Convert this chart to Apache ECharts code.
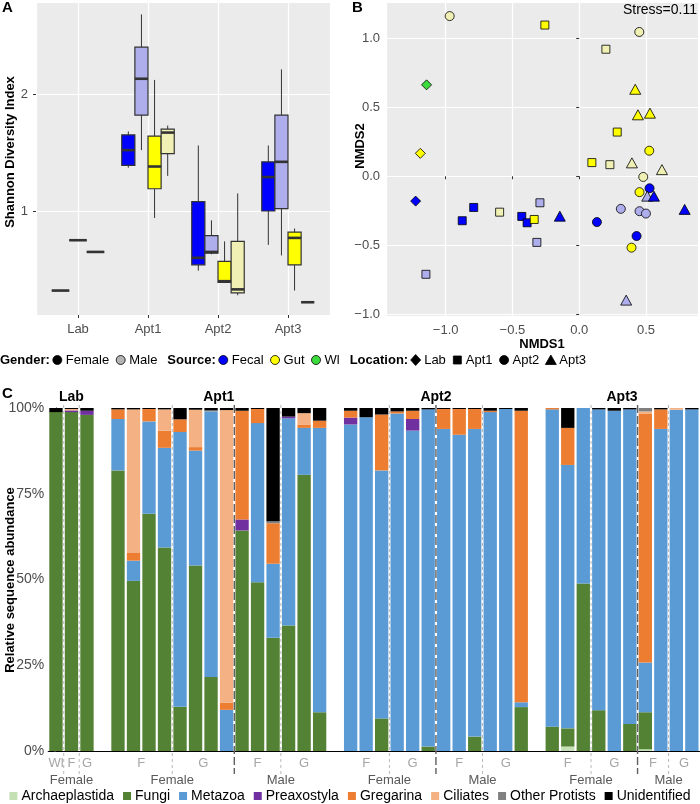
<!DOCTYPE html>
<html>
<head>
<meta charset="utf-8">
<title>Diversity, NMDS and taxonomic composition</title>
<script src="https://cdn.jsdelivr.net/npm/echarts@6.0.0/dist/echarts.min.js"></script>
<style>
    html, body { margin: 0; padding: 0; background: #ffffff; }
    #main { width: 700px; height: 804px; }
</style>
</head>
<body>
<div id="main"></div>
<script>
"use strict";

// ---------- panel A: Shannon diversity boxes ----------
var locations = ['Lab', 'Apt1', 'Apt2', 'Apt3'];
// [min, Q1, median, Q3, max] for each location, null when the group has no samples there
var femaleFecal = [[0.32, 0.32, 0.32, 0.32, 0.32], [1.37, 1.39, 1.52, 1.65, 1.68], [0.49, 0.54, 0.60, 1.08, 1.56], [0.71, 1.00, 1.29, 1.42, 1.56]];
var maleFecal = [null, [1.52, 1.82, 2.13, 2.40, 2.68], [0.63, 0.64, 0.65, 0.79, 0.92], [0.62, 1.02, 1.42, 1.82, 2.21]];
var femaleGut = [[0.75, 0.75, 0.75, 0.75, 0.75], [0.94, 1.19, 1.38, 1.64, 2.12], [0.39, 0.39, 0.40, 0.57, 0.74], [0.32, 0.54, 0.77, 0.82, 0.85]];
var maleGut = [null, [1.30, 1.49, 1.67, 1.70, 1.73], [0.28, 0.30, 0.33, 0.74, 1.15], [0.22, 0.22, 0.22, 0.22, 0.22]];
var wholeLarva = [[0.65, 0.65, 0.65, 0.65, 0.65], null, null, null];

// ---------- panel B: NMDS ordination [NMDS1, NMDS2, group] ----------
var labPoints = [[-1.143, 0.662, 'WL'], [-1.19, 0.166, 'FG'], [-1.225, -0.18, 'FF']];
var apt1Points = [
    [-0.257, 1.095, 'FG'], [0.20, 0.92, 'MG'], [0.285, 0.32, 'FG'], [0.095, 0.099, 'FG'],
    [0.23, 0.084, 'MG'], [-0.79, -0.226, 'FF'], [-0.596, -0.26, 'MG'], [-0.294, -0.192, 'MF'],
    [-0.876, -0.322, 'FF'], [-0.43, -0.291, 'FF'], [-0.39, -0.337, 'FF'], [-0.337, -0.313, 'FG'],
    [-0.317, -0.479, 'MF'], [-1.148, -0.71, 'MF']
];
var apt2Points = [
    [-0.97, 1.16, 'MG'], [0.45, 1.045, 'MG'], [0.525, 0.185, 'FG'], [0.48, -0.005, 'MG'],
    [0.527, -0.087, 'FF'], [0.452, -0.115, 'FG'], [0.133, -0.332, 'FF'], [0.312, -0.236, 'MF'],
    [0.452, -0.253, 'MF'], [0.50, -0.27, 'MF'], [0.43, -0.433, 'FF'], [0.392, -0.517, 'FG']
];
var apt3Points = [
    [0.42, 0.63, 'FG'], [0.44, 0.445, 'FG'], [0.53, 0.457, 'FG'], [0.395, 0.097, 'MG'],
    [0.62, 0.048, 'MG'], [0.51, -0.144, 'MF'], [0.56, -0.144, 'FF'], [-0.145, -0.289, 'FF'],
    [0.79, -0.24, 'FF'], [0.352, -0.897, 'MF']
];

// ---------- panel C: relative sequence abundance (%) per sample ----------
// sample groups in plotting order: location, gender, source, number of samples
var subgroups = [
    ['Lab', 'Female', 'Wl', 1], ['Lab', 'Female', 'F', 1], ['Lab', 'Female', 'G', 1],
    ['Apt1', 'Female', 'F', 4], ['Apt1', 'Female', 'G', 4], ['Apt1', 'Male', 'F', 3], ['Apt1', 'Male', 'G', 3],
    ['Apt2', 'Female', 'F', 3], ['Apt2', 'Female', 'G', 3], ['Apt2', 'Male', 'F', 3], ['Apt2', 'Male', 'G', 3],
    ['Apt3', 'Female', 'F', 3], ['Apt3', 'Female', 'G', 3], ['Apt3', 'Male', 'F', 2], ['Apt3', 'Male', 'G', 2]
];
var taxa = ['Archaeplastida', 'Fungi', 'Metazoa', 'Preaxostyla', 'Gregarina', 'Ciliates', 'Other Protists', 'Unidentified'];
var archaeplastida = [0, 0, 0, 0, 0, 0, 0, 0, 0, 0, 0, 0, 0, 0, 0, 0, 0, 0, 0, 0, 0, 0, 0, 0, 0, 0, 0, 0, 0, 0, 1.3, 0, 0, 0, 0, 0.5, 0, 0, 0];
var fungi = [98.8, 98.8, 98, 81.8, 49.6, 69.2, 59.3, 12.9, 54.1, 21.6, 0, 64.3, 49.2, 33.0, 36.6, 80.5, 11.3, 0, 0, 9.5, 0, 0, 1.3, 0, 0, 4.2, 0, 0, 12.8, 7.1, 5.3, 48.8, 11.9, 0, 7.9, 10.8, 0, 0, 0];
var metazoa = [0, 0, 0, 15.0, 5.9, 26.9, 29.1, 80.1, 33.5, 77.4, 12.0, 0, 46.4, 21.6, 60.4, 13.7, 82.9, 95.2, 97.3, 72.3, 98.4, 93.4, 98.3, 93.9, 92.2, 89.7, 98.8, 99.7, 1.4, 92.5, 76.8, 51.2, 87.7, 99.2, 91.7, 14.5, 93.9, 99.5, 99.6];
var preaxostyla = [0, 0.5, 1.2, 0, 0, 0, 0, 0, 0, 0, 0, 3.2, 0, 0, 0.5, 0, 0, 2.0, 0, 0, 0, 3.4, 0, 0, 0, 0, 0, 0, 0, 0, 0, 0, 0, 0, 0, 0, 0, 0, 0];
var gregarina = [0, 0, 0, 2.8, 2.4, 3.6, 5.0, 3.7, 1.0, 0, 2.1, 31.7, 4.1, 11.8, 0, 1.0, 2.1, 2.0, 0, 16.3, 0.6, 2.4, 0, 5.8, 7.5, 5.8, 0.4, 0, 85.0, 0.4, 10.8, 0, 0, 0, 0, 72.6, 5.7, 0, 0];
var ciliates = [0, 0.4, 0, 0, 41.7, 0, 6.2, 0, 10.9, 0, 85.3, 0, 0, 0, 0, 3.3, 0, 0, 0, 0, 0, 0, 0, 0, 0, 0, 0, 0, 0, 0, 0, 0, 0, 0, 0, 0.6, 0, 0.5, 0];
var otherProtists = [0, 0, 0, 0, 0, 0, 0, 0, 0, 0.3, 0, 0, 0, 0.6, 0, 0, 0, 0, 0, 0, 0, 0, 0, 0, 0, 0, 0, 0, 0, 0, 0, 0, 0, 0, 0, 1.0, 0, 0, 0];
var unidentified = [1.2, 0.3, 0.8, 0.4, 0.4, 0.3, 0.4, 3.3, 0.5, 0.7, 0.6, 0.8, 0.3, 33.0, 2.5, 1.5, 3.7, 0.8, 2.7, 1.9, 1.0, 0.8, 0.4, 0.3, 0.3, 0.3, 0.8, 0.3, 0.8, 0, 5.8, 0, 0.4, 0.8, 0.4, 0, 0.4, 0, 0.4];
var taxaValues = [archaeplastida, fungi, metazoa, preaxostyla, gregarina, ciliates, otherProtists, unidentified];

// ---------- styles ----------
var FONT = 'Liberation Sans, Arial, sans-serif';
var fillColors = { FF: '#0000ff', MF: '#aeaeec', FG: '#ffff00', MG: '#f0f0b4', WL: '#3ddc3d' };
var taxaColors = ['#c5e0b4', '#548235', '#5b9bd5', '#7030a0', '#ed7d31', '#f4b183', '#808080', '#000000'];

var chart = echarts.init(document.getElementById('main'), null, { renderer: 'canvas' });

// dodge the boxes of one location side by side (like ggplot position_dodge)
var boxGroups = [
    { key: 'FF', values: femaleFecal },
    { key: 'MF', values: maleFecal },
    { key: 'FG', values: femaleGut },
    { key: 'MG', values: maleGut },
    { key: 'WL', values: wholeLarva }
];
boxGroups.forEach(function (g) { g.items = []; });
locations.forEach(function (loc, li) {
    var present = boxGroups.filter(function (g) { return g.values[li] != null; });
    present.forEach(function (g, k) {
        // x position is the location number (1..4) on a discrete-like value axis
        g.items.push([li + 1].concat(g.values[li]).concat([k, present.length]));
    });
});

function renderBox(params, api) {
    var loc = api.value(0);
    var slot = api.value(6);
    var count = api.value(7);
    var unit = api.size([1, 0])[0];
    var dodge = unit * 0.75;
    var w = dodge / count;
    var cx = api.coord([loc, 1])[0] - dodge / 2 + w * (slot + 0.5);
    var yMin = api.coord([loc, api.value(1)])[1];
    var yQ1 = api.coord([loc, api.value(2)])[1];
    var yMed = api.coord([loc, api.value(3)])[1];
    var yQ3 = api.coord([loc, api.value(4)])[1];
    var yMax = api.coord([loc, api.value(5)])[1];
    var stroke = '#333333';
    return {
        type: 'group',
        children: [
            { type: 'line', shape: { x1: cx, y1: yMax, x2: cx, y2: yQ3 }, style: { stroke: stroke, lineWidth: 1 } },
            { type: 'line', shape: { x1: cx, y1: yQ1, x2: cx, y2: yMin }, style: { stroke: stroke, lineWidth: 1 } },
            { type: 'rect', shape: { x: cx - w / 2, y: yQ3, width: w, height: yQ1 - yQ3 }, style: { fill: api.visual('color'), stroke: stroke, lineWidth: 1.2 } },
            { type: 'line', shape: { x1: cx - w / 2, y1: yMed, x2: cx + w / 2, y2: yMed }, style: { stroke: stroke, lineWidth: 2.6 } }
        ]
    };
}

// slots of panel C: one per sample and one empty slot between locations
var slotSample = [];
var subgroupSlots = [];
(function () {
    var sample = 0;
    var prevLoc = null;
    subgroups.forEach(function (g) {
        if (prevLoc !== null && g[0] !== prevLoc) {
            slotSample.push(-1);
        }
        var first = slotSample.length;
        for (var i = 0; i < g[3]; i++) {
            slotSample.push(sample++);
        }
        subgroupSlots.push([first, slotSample.length - 1]);
        prevLoc = g[0];
    });
})();
var slotNames = slotSample.map(function (s, i) { return 'slot' + i; });

function fmtSigned(v) {
    return v.toFixed(1).replace('-', '\u2212');
}

function fmtLocation(v) {
    var i = Math.round(v);
    return Math.abs(v - i) < 1e-6 && locations[i - 1] ? locations[i - 1] : '';
}

var axisGray = { color: '#4d4d4d', fontSize: 13, fontFamily: FONT };

var series = [];

boxGroups.forEach(function (g) {
    series.push({
        type: 'custom', name: g.key, xAxisIndex: 0, yAxisIndex: 0, z: 3,
        itemStyle: { color: fillColors[g.key] },
        renderItem: renderBox,
        encode: { x: 0, y: [1, 2, 3, 4, 5] },
        data: g.items
    });
});

var pointSets = [
    { data: labPoints, symbol: 'diamond', size: 10 },
    { data: apt1Points, symbol: 'rect', size: 8 },
    { data: apt2Points, symbol: 'circle', size: 9 },
    { data: apt3Points, symbol: 'triangle', size: [11, 10] }
];
pointSets.forEach(function (p) {
    series.push({
        type: 'scatter', xAxisIndex: 1, yAxisIndex: 1, symbol: p.symbol, symbolSize: p.size, z: 3,
        itemStyle: { borderColor: '#000000', borderWidth: 0.8, opacity: 1 },
        data: p.data.map(function (d) {
            return { value: [d[0], d[1]], itemStyle: { color: fillColors[d[2]] } };
        })
    });
});

taxa.forEach(function (name, ti) {
    series.push({
        type: 'bar', name: name, stack: 'abundance', xAxisIndex: 2, yAxisIndex: 2,
        barCategoryGap: '14%',
        itemStyle: { color: taxaColors[ti] },
        data: slotSample.map(function (s) { return s < 0 ? '-' : taxaValues[ti][s]; })
    });
});

var option = {
    animation: false,
    textStyle: { fontFamily: FONT },
    grid: [
        { left: 36, top: 2, width: 294, height: 313, show: true, backgroundColor: '#ebebeb', borderWidth: 0 },
        { left: 386, top: 2, width: 312, height: 314, show: true, backgroundColor: '#ebebeb', borderWidth: 0 },
        { left: 48.2, top: 408, width: 651.4, height: 343 }
    ],
    xAxis: [
        {
            // locations sit at 1..4 with the ggplot 0.6 expansion on both sides
            gridIndex: 0, type: 'value', min: 0.4, max: 4.6, splitNumber: 4,
            axisLine: { show: false },
            axisTick: { length: 3, lineStyle: { color: '#333333' } },
            axisLabel: Object.assign({ margin: 8, showMinLabel: false, showMaxLabel: false, formatter: fmtLocation }, axisGray),
            splitLine: { lineStyle: { color: '#ffffff', width: 1.2 } }
        },
        {
            gridIndex: 1, type: 'value', min: -1.447, max: 0.89, splitNumber: 5,
            axisLine: { show: false },
            axisTick: { length: 3, lineStyle: { color: '#333333' } },
            axisLabel: Object.assign({ margin: 8, showMinLabel: false, showMaxLabel: false, formatter: fmtSigned }, axisGray),
            splitLine: { lineStyle: { color: '#ffffff', width: 1.2 } },
            name: 'NMDS1', nameLocation: 'middle', nameGap: 22,
            nameTextStyle: { fontWeight: 'bold', fontSize: 13, color: '#000000', fontFamily: FONT }
        },
        {
            gridIndex: 2, type: 'category', data: slotNames,
            axisLine: { lineStyle: { color: '#000000', width: 1 } },
            axisTick: { show: false },
            axisLabel: { show: false }
        },
        { gridIndex: 2, type: 'value', min: -0.5, max: slotSample.length - 0.5, show: false }
    ],
    yAxis: [
        {
            gridIndex: 0, type: 'value', min: 0.111, max: 2.786, splitNumber: 3,
            axisLine: { show: false },
            axisTick: { length: 3, lineStyle: { color: '#333333' } },
            axisLabel: Object.assign({ margin: 8, showMinLabel: false, showMaxLabel: false }, axisGray),
            splitLine: { lineStyle: { color: '#ffffff', width: 1.2 } }
        },
        {
            gridIndex: 1, type: 'value', min: -1.012, max: 1.262, splitNumber: 5,
            axisLine: { show: false },
            axisTick: { length: 3, lineStyle: { color: '#333333' } },
            axisLabel: Object.assign({ margin: 6, showMinLabel: false, showMaxLabel: false, formatter: fmtSigned }, axisGray),
            splitLine: { lineStyle: { color: '#ffffff', width: 1.2 } }
        },
        {
            gridIndex: 2, type: 'value', min: 0, max: 100, interval: 25,
            axisLine: { show: true, lineStyle: { color: '#000000', width: 1 } },
            axisTick: { show: true, length: 2, lineStyle: { color: '#333333' } },
            axisLabel: { color: '#4d4d4d', fontSize: 14, margin: 4, fontFamily: FONT, formatter: '{value}%' },
            splitLine: { show: false }
        }
    ],
    legend: {
        data: taxa, left: 'center', top: 789, padding: 0,
        icon: 'rect', itemWidth: 8, itemHeight: 8, itemGap: 9,
        textStyle: { fontSize: 14, color: '#000000', fontFamily: FONT, padding: [0, 0, 0, -1] },
        selectedMode: false
    },
    series: series
};

chart.setOption(option);

// ---------- annotations: titles, legend row, facet labels ----------
var measureCtx = document.createElement('canvas').getContext('2d');
function textWidth(text, font) {
    measureCtx.font = font;
    return measureCtx.measureText(text).width;
}

function textEl(text, x, y, font, fill, align, rotation) {
    return {
        type: 'text', x: x, y: y, rotation: rotation || 0, silent: true, z: 100,
        style: {
            text: text, font: font, fill: fill,
            textAlign: align || 'center', textVerticalAlign: 'middle',
            align: align || 'center', verticalAlign: 'middle'
        }
    };
}

function symbolEl(kind, cx, cy, fill) {
    var style = { fill: fill, stroke: '#000000', lineWidth: 0.8 };
    if (kind === 'circle') {
        return { type: 'circle', shape: { cx: cx, cy: cy, r: 4.5 }, style: style, z: 100 };
    }
    if (kind === 'rect') {
        return { type: 'rect', shape: { x: cx - 4, y: cy - 4, width: 8, height: 8 }, style: style, z: 100 };
    }
    if (kind === 'diamond') {
        return { type: 'polygon', shape: { points: [[cx, cy - 5.5], [cx + 5, cy], [cx, cy + 5.5], [cx - 5, cy]] }, style: style, z: 100 };
    }
    return { type: 'polygon', shape: { points: [[cx, cy - 5], [cx + 5.5, cy + 4.5], [cx - 5.5, cy + 4.5]] }, style: style, z: 100 };
}

var legendRow = [
    { title: 'Gender:' },
    { symbol: 'circle', fill: '#000000', text: 'Female' },
    { symbol: 'circle', fill: '#b3b3b3', text: 'Male' },
    { title: 'Source:' },
    { symbol: 'circle', fill: fillColors.FF, text: 'Fecal' },
    { symbol: 'circle', fill: fillColors.FG, text: 'Gut' },
    { symbol: 'circle', fill: fillColors.WL, text: 'Wl' },
    { title: 'Location:' },
    { symbol: 'diamond', fill: '#000000', text: 'Lab' },
    { symbol: 'rect', fill: '#000000', text: 'Apt1' },
    { symbol: 'circle', fill: '#000000', text: 'Apt2' },
    { symbol: 'triangle', fill: '#000000', text: 'Apt3' }
];

function buildGraphics() {
    var els = [];
    var boldFont = 'bold 13px ' + FONT;
    var plainFont = '13px ' + FONT;

    // panel letters and axis titles
    els.push(textEl('A', 2, 8, 'bold 15px ' + FONT, '#000000', 'left'));
    els.push(textEl('B', 352, 8, 'bold 15px ' + FONT, '#000000', 'left'));
    els.push(textEl('C', 2, 394, 'bold 15px ' + FONT, '#000000', 'left'));
    els.push(textEl('Shannon Diversity Index', 10, 152, boldFont, '#000000', 'center', Math.PI / 2));
    els.push(textEl('NMDS2', 360, 146, boldFont, '#000000', 'center', Math.PI / 2));
    els.push(textEl('Relative sequence abundance', 10, 580, boldFont, '#000000', 'center', Math.PI / 2));
    els.push(textEl('Stress=0.11', 697, 10, '14px ' + FONT, '#000000', 'right'));

    // legend row under panels A and B
    var x = 0;
    var rowY = 360;
    legendRow.forEach(function (item, i) {
        if (item.title) {
            if (i > 0) { x += 3; }
            els.push(textEl(item.title, x, rowY, boldFont, '#000000', 'left'));
            x += textWidth(item.title, boldFont) + 3;
        } else {
            els.push(symbolEl(item.symbol, x + 4.5, rowY, item.fill));
            x += 13;
            els.push(textEl(item.text, x, rowY, plainFont, '#000000', 'left'));
            x += textWidth(item.text, plainFont) + 7;
        }
    });

    // panel C: facet labels, separators, source and gender labels
    function slotX(v) { return chart.convertToPixel({ xAxisIndex: 3 }, v); }
    var topY = chart.convertToPixel({ yAxisIndex: 2 }, 100) - 3;
    var lineBottom = 774;

    locations.forEach(function (loc) {
        var first = -1, last = -1;
        subgroups.forEach(function (g, gi) {
            if (g[0] === loc) {
                if (first < 0) { first = subgroupSlots[gi][0]; }
                last = subgroupSlots[gi][1];
            }
        });
        els.push(textEl(loc, slotX((first + last) / 2), 397, 'bold 14px ' + FONT, '#000000', 'center'));
    });

    subgroups.forEach(function (g, gi) {
        var span = subgroupSlots[gi];
        els.push(textEl(g[2], slotX((span[0] + span[1]) / 2), 763, '13px ' + FONT, '#a6a6a6', 'center'));
        if (gi > 0 && subgroups[gi - 1][0] === g[0]) {
            var bx = slotX(span[0] - 0.5);
            var genderChange = subgroups[gi - 1][1] !== g[1];
            els.push({
                type: 'line', silent: true, z: 90,
                shape: { x1: bx, y1: topY, x2: bx, y2: lineBottom },
                style: genderChange ?
                    { stroke: '#5f5f5f', lineWidth: 1.4, lineDash: [8, 3] } :
                    { stroke: '#b8b8b8', lineWidth: 1, lineDash: [3, 3] }
            });
        }
    });

    // gender labels span consecutive subgroups with the same location and gender
    var runStart = 0;
    for (var gi = 1; gi <= subgroups.length; gi++) {
        var endRun = gi === subgroups.length ||
            subgroups[gi][0] !== subgroups[runStart][0] || subgroups[gi][1] !== subgroups[runStart][1];
        if (endRun) {
            var a = subgroupSlots[runStart][0];
            var b = subgroupSlots[gi - 1][1];
            els.push(textEl(subgroups[runStart][1], slotX((a + b) / 2), 780, '13px ' + FONT, '#595959', 'center'));
            runStart = gi;
        }
    }
    return els;
}

chart.setOption({ graphic: buildGraphics() });
</script>
</body>
</html>
